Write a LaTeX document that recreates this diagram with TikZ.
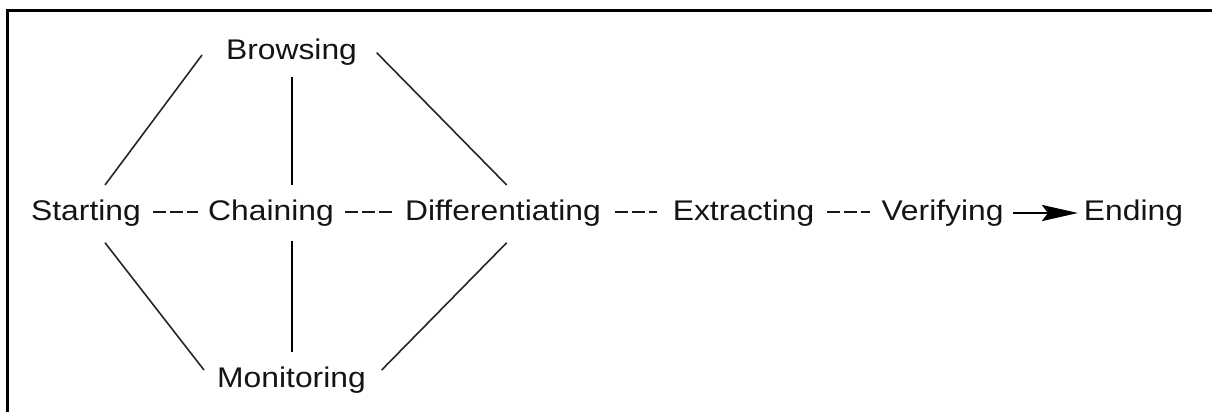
\documentclass[tikz,border=0pt]{standalone}
\usepackage{fontspec}
\setmainfont{Liberation Sans}[FakeStretch=1.12]
\usetikzlibrary{calc,arrows.meta}
\tikzset{
  lbl/.style={inner sep=0pt, anchor=base, font=\fontsize{14.2pt}{16pt}\selectfont, text=black!92},
  plain/.style={draw=black!85, line width=0.8pt},
  vline/.style={draw=black, line width=0.95pt},
  dashline/.style={draw=black!90, line width=1.15pt, dash pattern=on 6.6pt off 1.8pt},
  bigarrow/.style={draw=black, line width=1.4pt, -{Stealth[length=18pt, width=8pt, inset=3pt]}},
  frameline/.style={draw=black, line width=1.5pt}
}
\begin{document}
\begin{tikzpicture}[x=0.5pt, y=-0.5pt]
\useasboundingbox (0,0) rectangle (1212,412);
\draw[frameline] (7.5,414) -- (7.5,10) -- (1214,10);

\node[lbl] (s) at (86,220) {Starting};
\node[lbl] (c) at (271,220) {Chaining};
\node[lbl] (d) at (503,220) {Differentiating};
\node[lbl] (e) at (743.5,220) {Extracting};
\node[lbl] (v) at (942.5,220) {Verifying};
\node[lbl] (en) at (1133.5,220) {Ending};
\node[lbl] (b) at (291.5,60) {Browsing};
\node[lbl] (m) at (291.5,387) {Monitoring};

% diamond-like connectors
\draw[plain] ($(s.base)+(19,-35)$) -- ($(b.base)+(-89.5,-5)$);
\draw[plain] ($(b.base)+(85.2,-7.3)$) -- ($(d.base)+(3.7,-35)$);
\draw[plain] ($(s.base)+(19,22.7)$) -- ($(m.base)+(-87.5,-17)$);
\draw[plain] ($(m.base)+(90.2,-17)$) -- ($(d.base)+(3.7,22.7)$);

% vertical connectors
\draw[vline] ($(b.base)+(0.2,16.7)$) -- ($(c.base)+(20.7,-35)$);
\draw[vline] ($(c.base)+(20.7,21)$) -- ($(m.base)+(0.2,-35.3)$);

% dashed connectors
\draw[dashline] ($(s.base)+(67,-8)$) -- ($(c.base)+(-73,-8)$);
\draw[dashline] ($(c.base)+(74,-8)$) -- ($(d.base)+(-110,-8)$);
\draw[dashline] ($(d.base)+(112,-8)$) -- ($(e.base)+(-86.5,-8)$);
\draw[dashline] ($(e.base)+(83.5,-8)$) -- ($(v.base)+(-72.5,-8)$);

% arrow
\draw[bigarrow] ($(v.base)+(70.5,-7)$) -- ($(en.base)+(-55.5,-7)$);
\end{tikzpicture}
\end{document}
